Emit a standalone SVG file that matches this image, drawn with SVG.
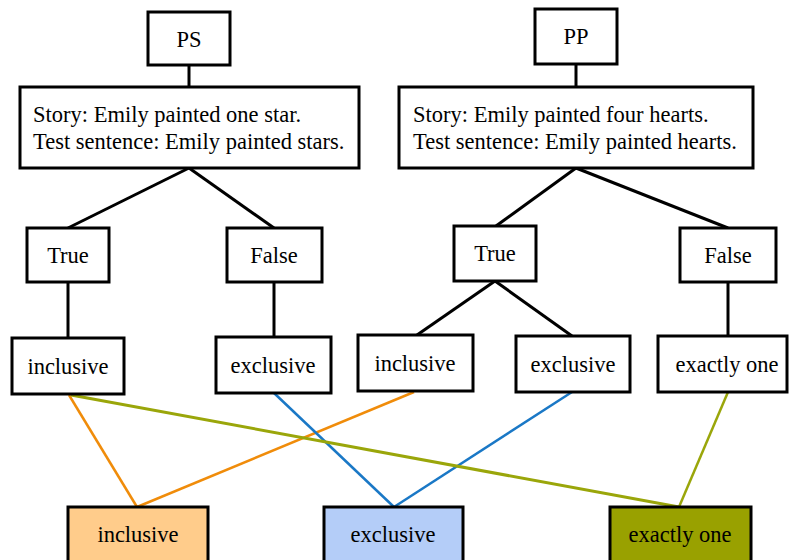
<svg xmlns="http://www.w3.org/2000/svg" width="789" height="560" viewBox="0 0 789 560">
<style>
.box{fill:#fff;stroke:#000;stroke-width:3}
.t{font-family:"Liberation Serif","Times New Roman",serif;font-size:22.5px;fill:#000}
.c{text-anchor:middle}
.k{stroke:#000;stroke-width:3;fill:none}
.or{stroke:#F08C0A;stroke-width:2.5}
.bl{stroke:#1A78C6;stroke-width:2.5}
.ol{stroke:#9AA60A;stroke-width:2.5}
.olw{stroke:#9AA60A;stroke-width:3}
</style>
<rect width="789" height="560" fill="#fff"/>
<g id="connectors">
<line class="k" x1="189" y1="65" x2="189" y2="87"/>
<line class="k" x1="576" y1="64" x2="576" y2="87"/>
<line class="k" x1="189" y1="168" x2="68" y2="228"/>
<line class="k" x1="189" y1="168" x2="274" y2="228"/>
<line class="k" x1="576" y1="168" x2="496" y2="226"/>
<line class="k" x1="576" y1="168" x2="728" y2="228"/>
<line class="k" x1="68" y1="282" x2="68" y2="338"/>
<line class="k" x1="274" y1="282" x2="274" y2="337"/>
<line class="k" x1="495" y1="281" x2="417" y2="335"/>
<line class="k" x1="495" y1="281" x2="572" y2="336"/>
<line class="k" x1="728" y1="282" x2="728" y2="336"/>
<line class="or" x1="69" y1="395" x2="137" y2="507"/>
<line class="or" x1="414" y1="392" x2="137" y2="507"/>
<line class="bl" x1="274" y1="393" x2="394" y2="507"/>
<line class="bl" x1="572" y1="392" x2="394" y2="507"/>
<line class="olw" x1="71" y1="395" x2="679" y2="507"/>
<line class="ol" x1="728" y1="392" x2="679" y2="507"/>
</g>
<g id="ps"><rect class="box" x="148" y="12" width="82" height="53"/><text class="t c" x="189" y="47">PS</text></g>
<g id="pp"><rect class="box" x="535" y="9" width="82" height="55"/><text class="t c" x="576" y="44">PP</text></g>
<g id="story1"><rect class="box" x="20" y="87" width="339" height="81"/>
<text class="t" x="33" y="122">Story: Emily painted one star.</text>
<text class="t" x="33" y="149">Test sentence: Emily painted stars.</text></g>
<g id="story2"><rect class="box" x="399" y="87" width="354" height="81"/>
<text class="t" x="413" y="122">Story: Emily painted four hearts.</text>
<text class="t" x="413" y="149">Test sentence: Emily painted hearts.</text></g>
<g id="true1"><rect class="box" x="27" y="228" width="82" height="54"/><text class="t c" x="68" y="263">True</text></g>
<g id="false1"><rect class="box" x="227" y="228" width="95" height="54"/><text class="t c" x="274" y="263">False</text></g>
<g id="true2"><rect class="box" x="454" y="226" width="82" height="55"/><text class="t c" x="495" y="261">True</text></g>
<g id="false2"><rect class="box" x="680" y="228" width="96" height="54"/><text class="t c" x="728" y="263">False</text></g>
<g id="inclusive1"><rect class="box" x="12" y="338" width="112" height="56"/><text class="t c" x="68" y="374">inclusive</text></g>
<g id="exclusive1"><rect class="box" x="216" y="337" width="115" height="56"/><text class="t c" x="273" y="373">exclusive</text></g>
<g id="inclusive2"><rect class="box" x="358" y="335" width="115" height="56"/><text class="t c" x="415" y="371">inclusive</text></g>
<g id="exclusive2"><rect class="box" x="516" y="336" width="114" height="56"/><text class="t c" x="573" y="372">exclusive</text></g>
<g id="exactly1"><rect class="box" x="658" y="336" width="129" height="56"/><text class="t c" x="727" y="372">exactly one</text></g>
<g id="out-inclusive"><rect x="68" y="507" width="140" height="56" fill="#FFCC8B" stroke="#000" stroke-width="3"/><text class="t c" x="138" y="542">inclusive</text></g>
<g id="out-exclusive"><rect x="324" y="507" width="139" height="56" fill="#B4CDF8" stroke="#000" stroke-width="3"/><text class="t c" x="393" y="542">exclusive</text></g>
<g id="out-exactly"><rect x="610" y="507" width="141" height="56" fill="#99A100" stroke="#000" stroke-width="3"/><text class="t c" x="680" y="542">exactly one</text></g>
</svg>
